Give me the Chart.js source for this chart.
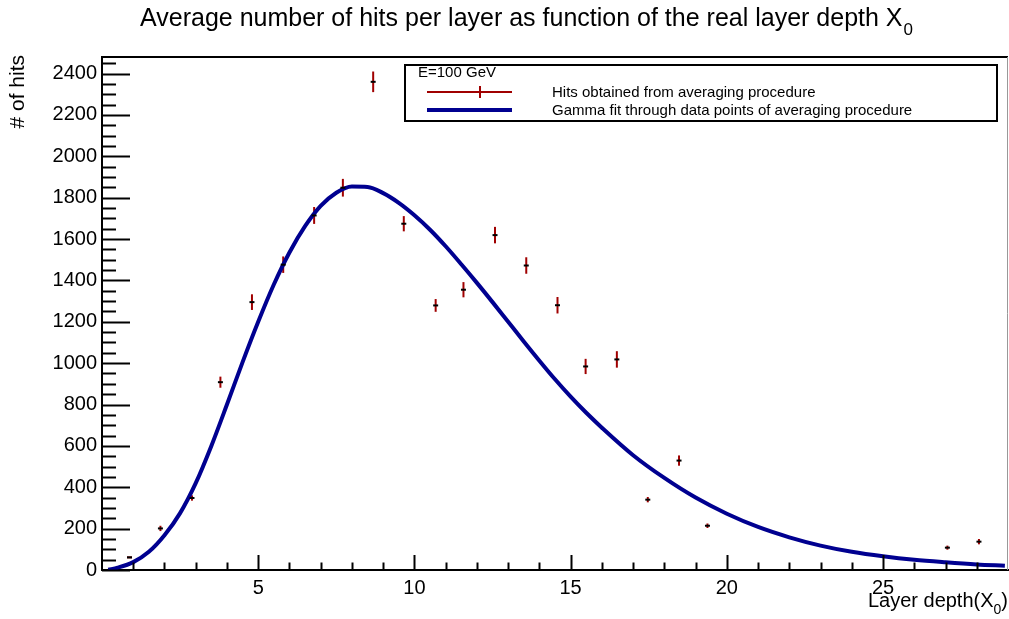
<!DOCTYPE html>
<html>
<head>
<meta charset="utf-8">
<script src="https://cdn.jsdelivr.net/npm/chart.js@4/dist/chart.umd.min.js"></script>
<style>
  body { margin: 0; background: #fff; }
  canvas { display: block; }
</style>
</head>
<body>
<canvas id="hitsChart" width="1009" height="619"></canvas>
<script>
// measured points (layer depth in X0, average hits, error)
const layerDepth = [0.88, 1.87, 2.88, 3.79, 4.8, 5.8, 6.79, 7.71, 8.68, 9.66, 10.68, 11.57, 12.58, 13.58, 14.58, 15.48, 16.48, 17.47, 18.47, 19.38, 27.06, 28.07];
const avgHits = [61, 201, 348, 908, 1295, 1476, 1714, 1848, 2360, 1674, 1279, 1355, 1619, 1472, 1280, 984, 1018, 340, 529, 214, 108, 137];
const hitErrors = [0, 8, 8, 22, 33, 35, 36, 38, 45, 32, 26, 32, 35, 35, 35, 32, 35, 8, 20, 6, 5, 8];

// gamma fit curve
const fitDepth = [0.2, 0.5, 1, 1.5, 2, 2.5, 3, 3.5, 4, 4.5, 5, 5.5, 6, 6.5, 7, 7.5, 8, 8.5, 9, 9.5, 10, 10.5, 11, 11.5, 12, 12.5, 13, 13.5, 14, 14.5, 15, 15.5, 16, 17, 18, 19, 20, 21, 22, 23, 24, 25, 26, 27, 28, 28.9];
const fitHits = [1, 11, 38, 88, 168, 275, 420, 600, 800, 1005, 1200, 1380, 1535, 1662, 1760, 1824, 1854, 1852, 1822, 1775, 1715, 1645, 1565, 1478, 1388, 1295, 1200, 1105, 1012, 922, 838, 760, 688, 555, 445, 350, 272, 208, 158, 118, 88, 66, 49, 37, 27, 21];

const xTickValues = [5, 10, 15, 20, 25];
const yTickValues = [0, 200, 400, 600, 800, 1000, 1200, 1400, 1600, 1800, 2000, 2200, 2400];

const FONT = "'Liberation Sans', Arial, sans-serif";
const RED = '#a00000';
const BLUE = '#000090';

function xy(xs, ys) {
  return xs.map((x, i) => ({ x: x, y: ys[i] }));
}

// error bars under the black markers
const errorBars = {
  id: 'errorBars',
  beforeDatasetsDraw(chart) {
    const ctx = chart.ctx;
    const xs = chart.scales.x, ys = chart.scales.y;
    ctx.save();
    ctx.strokeStyle = RED;
    ctx.lineWidth = 2;
    layerDepth.forEach((d, i) => {
      const px = xs.getPixelForValue(d);
      const top = ys.getPixelForValue(avgHits[i] + hitErrors[i]);
      const bot = ys.getPixelForValue(avgHits[i] - hitErrors[i]);
      ctx.beginPath();
      if (hitErrors[i] === 0) {
        ctx.moveTo(px - 2.5, top);
        ctx.lineTo(px + 2.5, top);
      } else {
        ctx.moveTo(px, top - 1);
        ctx.lineTo(px, bot + 1);
      }
      ctx.stroke();
    });
    ctx.restore();
  }
};

// ROOT-like frame, inner ticks, titles and legend
const rootDecor = {
  id: 'rootDecor',
  afterDraw(chart) {
    const ctx = chart.ctx;
    const a = chart.chartArea;
    const xs = chart.scales.x, ys = chart.scales.y;
    ctx.save();
    ctx.strokeStyle = '#000';

    // top frame line and right edge
    ctx.lineWidth = 2;
    ctx.beginPath();
    ctx.moveTo(a.left, a.top);
    ctx.lineTo(a.right, a.top);
    ctx.stroke();
    ctx.strokeStyle = '#999';
    ctx.lineWidth = 1;
    ctx.beginPath();
    ctx.moveTo(a.right - 0.5, a.top);
    ctx.lineTo(a.right - 0.5, a.bottom);
    ctx.stroke();

    // y ticks, inside
    ctx.strokeStyle = '#000';
    ctx.lineWidth = 2;
    for (let v = 0; v <= ys.max; v += 50) {
      const py = Math.round(ys.getPixelForValue(v)) + 0.5;
      const len = v % 200 === 0 ? 28 : 14;
      ctx.beginPath();
      ctx.moveTo(a.left, py);
      ctx.lineTo(a.left + len, py);
      ctx.stroke();
    }
    // x ticks, inside
    for (let v = 1; v < xs.max; v += 1) {
      const px = Math.round(xs.getPixelForValue(v)) + 0.5;
      const len = v % 5 === 0 ? 15 : 7.5;
      ctx.beginPath();
      ctx.moveTo(px, a.bottom);
      ctx.lineTo(px, a.bottom - len);
      ctx.stroke();
    }

    ctx.fillStyle = '#000';
    ctx.textBaseline = 'alphabetic';

    // title with subscript
    const tMain = 'Average number of hits per layer as function of the real layer depth X';
    ctx.font = '25px ' + FONT;
    const wMain = ctx.measureText(tMain).width;
    ctx.font = '17px ' + FONT;
    const wSub = ctx.measureText('0').width;
    let tx = 526 - (wMain + wSub) / 2;
    ctx.textAlign = 'left';
    ctx.font = '25px ' + FONT;
    ctx.fillText(tMain, tx, 26);
    ctx.font = '17px ' + FONT;
    ctx.fillText('0', tx + wMain + 1, 35);

    // x axis title, right aligned
    ctx.font = '20px ' + FONT;
    const p1 = 'Layer depth(X';
    const w1 = ctx.measureText(p1).width;
    const w3 = ctx.measureText(')').width;
    ctx.font = '14px ' + FONT;
    const w2 = ctx.measureText('0').width;
    let ax = a.right - (w1 + w2 + w3);
    ctx.font = '20px ' + FONT;
    ctx.fillText(p1, ax, 607);
    ctx.fillText(')', ax + w1 + w2, 607);
    ctx.font = '14px ' + FONT;
    ctx.fillText('0', ax + w1, 614);

    // y axis title, rotated, aligned to the top
    ctx.save();
    ctx.translate(24, a.top - 2);
    ctx.rotate(-Math.PI / 2);
    ctx.textAlign = 'right';
    ctx.font = '21px ' + FONT;
    ctx.fillText('# of hits', 0, 0);
    ctx.restore();

    // legend box
    ctx.fillStyle = '#fff';
    ctx.fillRect(404, 64, 594, 58);
    ctx.strokeStyle = '#000';
    ctx.lineWidth = 2;
    ctx.strokeRect(405, 65, 592, 56);
    ctx.fillStyle = '#000';
    ctx.font = '15px ' + FONT;
    ctx.textAlign = 'left';
    ctx.fillText('E=100 GeV', 418, 77);
    ctx.fillText('Hits obtained from averaging procedure', 552, 97);
    ctx.fillText('Gamma fit through data points of averaging procedure', 552, 115);
    ctx.strokeStyle = RED;
    ctx.lineWidth = 2;
    ctx.beginPath();
    ctx.moveTo(427, 92);
    ctx.lineTo(512, 92);
    ctx.moveTo(480, 86);
    ctx.lineTo(480, 98);
    ctx.stroke();
    ctx.strokeStyle = BLUE;
    ctx.lineWidth = 4;
    ctx.beginPath();
    ctx.moveTo(427, 110);
    ctx.lineTo(512, 110);
    ctx.stroke();

    ctx.restore();
  }
};

const ctx = document.getElementById('hitsChart').getContext('2d');
new Chart(ctx, {
  type: 'scatter',
  data: {
    datasets: [
      {
        label: 'Gamma fit through data points of averaging procedure',
        data: xy(fitDepth, fitHits),
        showLine: true,
        borderColor: BLUE,
        borderWidth: 4,
        pointRadius: 0,
        cubicInterpolationMode: 'monotone',
        order: 2
      },
      {
        label: 'Hits obtained from averaging procedure',
        data: xy(layerDepth, avgHits),
        pointStyle: 'line',
        pointRadius: 2.5,
        borderColor: '#000',
        backgroundColor: '#000',
        borderWidth: 2,
        order: 1
      }
    ]
  },
  options: {
    responsive: false,
    animation: false,
    layout: { autoPadding: false, padding: { top: 57, right: 1, left: 0, bottom: 0 } },
    plugins: {
      legend: { display: false },
      title: { display: false },
      tooltip: { enabled: false }
    },
    scales: {
      x: {
        type: 'linear',
        min: 0,
        max: 29,
        grid: { display: false, drawTicks: false },
        border: { color: '#000', width: 2 },
        afterBuildTicks: (s) => { s.ticks = xTickValues.map(v => ({ value: v })); },
        afterFit: (s) => { s.height = 49; s.paddingLeft = 0; s.paddingRight = 0; },
        ticks: { color: '#000', padding: 6, maxRotation: 0, font: { family: FONT, size: 20 } }
      },
      y: {
        type: 'linear',
        min: 0,
        max: 2480,
        grid: { display: false, drawTicks: false },
        border: { color: '#000', width: 2 },
        afterBuildTicks: (s) => { s.ticks = yTickValues.map(v => ({ value: v })); },
        afterFit: (s) => { s.width = 102; s.paddingTop = 0; s.paddingBottom = 0; },
        ticks: { color: '#000', padding: 5, font: { family: FONT, size: 20 }, callback: (v) => String(v) }
      }
    }
  },
  plugins: [errorBars, rootDecor]
});
</script>
</body>
</html>
